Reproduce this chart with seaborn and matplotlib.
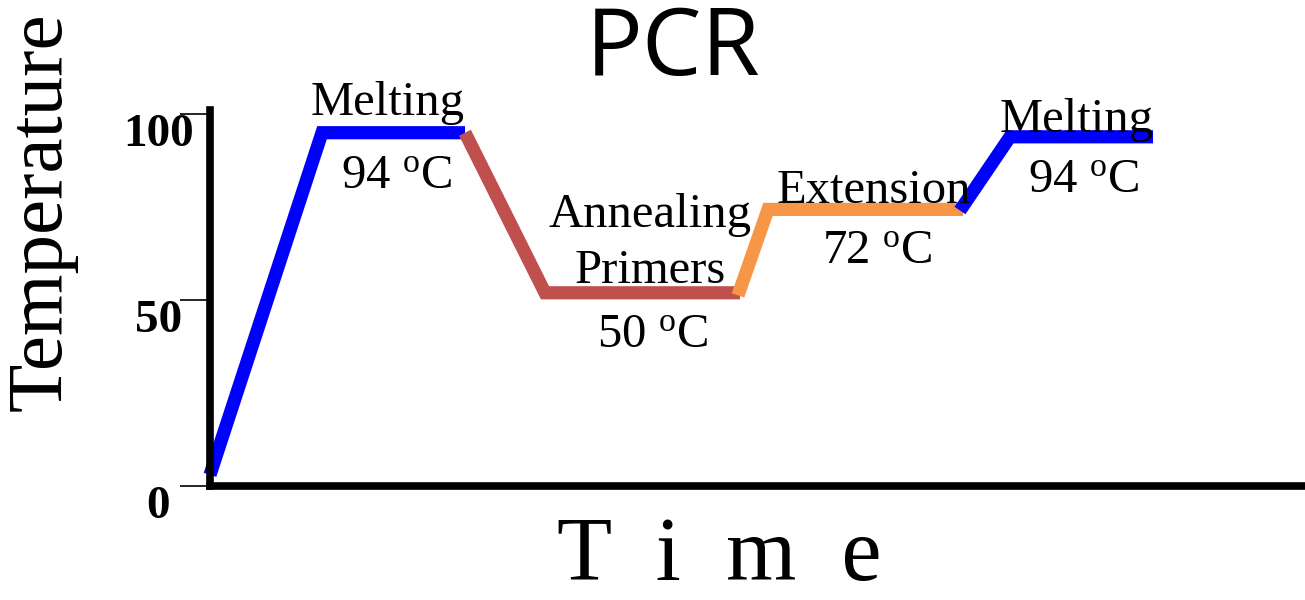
import matplotlib
matplotlib.use("Agg")
import matplotlib.pyplot as plt
import seaborn as sns
import pandas as pd

# ---- data ----
seg_blue1_time = [0.0, 11.2, 25.5]
seg_blue1_temp = [3.0, 94.9, 94.9]
seg_red_time = [25.5, 33.5, 53.0]
seg_red_temp = [94.9, 51.9, 51.9]
seg_orange_time = [52.8, 55.8, 75.3]
seg_orange_temp = [51.2, 74.3, 74.3]
seg_blue2_time = [75.0, 80.0, 94.3]
seg_blue2_temp = [74.0, 93.8, 93.8]
segment_names = ["heat1", "anneal", "extend", "heat2"]
segment_colors = ["#0000FF", "#C0504D", "#F79646", "#0000FF"]

ytick_values = [0, 50, 100]
ytick_labels = ["0", "50", "100"]

step_labels = ["Melting", "94 $^{\\mathrm{o}}$C", "Annealing", "Primers",
               "50 $^{\\mathrm{o}}$C", "Extension", "72 $^{\\mathrm{o}}$C",
               "Melting", "94 $^{\\mathrm{o}}$C"]
label_x = [17.8, 18.6, 44.0, 44.0, 44.2, 66.4, 66.7, 86.7, 87.3]
label_y = [99.7, 80.1, 69.6, 54.6, 37.4, 76.1, 59.9, 95.2, 79.0]

title_text = "PCR"
xlabel_text = "T  i  m  e"
ylabel_text = "Temperature"

# ---- build frame ----
rows = []
for name, ts, vs in zip(segment_names,
                        [seg_blue1_time, seg_red_time, seg_orange_time, seg_blue2_time],
                        [seg_blue1_temp, seg_red_temp, seg_orange_temp, seg_blue2_temp]):
    for t, v in zip(ts, vs):
        rows.append({"time": t, "temp": v, "segment": name})
df = pd.DataFrame(rows)

sns.set_theme(style="white")
plt.rcParams["font.family"] = ["Liberation Serif", "DejaVu Serif"]
plt.rcParams["text.color"] = "black"
plt.rcParams["ytick.color"] = "black"
plt.rcParams["ytick.labelcolor"] = "black"
plt.rcParams["mathtext.fontset"] = "custom"
plt.rcParams["mathtext.rm"] = "Liberation Serif"
plt.rcParams["mathtext.it"] = "Liberation Serif:italic"
plt.rcParams["mathtext.bf"] = "Liberation Serif:bold"

fig = plt.figure(figsize=(13.05, 6.0), dpi=100)
ax = fig.add_axes([210 / 1305, 114 / 600, 1 - 210 / 1305, 376 / 600])

sns.lineplot(data=df, x="time", y="temp", hue="segment", units="segment",
             estimator=None, sort=False, palette=dict(zip(segment_names, segment_colors)),
             hue_order=segment_names, linewidth=9.5, legend=False, ax=ax)
for ln in ax.lines:
    ln.set_solid_joinstyle("miter")
    ln.set_solid_capstyle("butt")
    ln.set_clip_on(False)
    ln.set_zorder(2)

ax.set_xlim(0, 109.5)
ax.set_ylim(0, 101)

for s in ["top", "right"]:
    ax.spines[s].set_visible(False)
for s in ["left", "bottom"]:
    ax.spines[s].set_linewidth(5.5)
    ax.spines[s].set_color("black")
    ax.spines[s].set_zorder(3)

ax.set_xticks([])
ax.set_yticks(ytick_values)
ax.set_yticklabels(ytick_labels, fontsize=34, fontweight="bold", color="black")
ax.tick_params(axis="y", direction="out", length=21.6, width=1.2, color="black",
               pad=15.5, left=True)
for lab in ax.get_yticklabels():
    lab.set_horizontalalignment("center")
    lab.set_verticalalignment("top")

ax.set_xlabel("")
ax.set_ylabel("")

for txt, x, y in zip(step_labels, label_x, label_y):
    ax.text(x, y, txt, ha="center", va="baseline", fontsize=35, color="black",
            clip_on=False)

fig.text(673 / 1305, 1 - 75 / 600, title_text, ha="center", va="baseline",
         fontsize=68, color="black", family=["Open Sans", "DejaVu Sans"])
fig.text(719 / 1305, 1 - 580 / 600, xlabel_text, ha="center", va="baseline",
         fontsize=65, color="black")
fig.text(42 / 1305, 1 - 212 / 600, ylabel_text, ha="center", va="center",
         rotation=90, fontsize=57, color="black")

fig.savefig("out.png", dpi=100)
